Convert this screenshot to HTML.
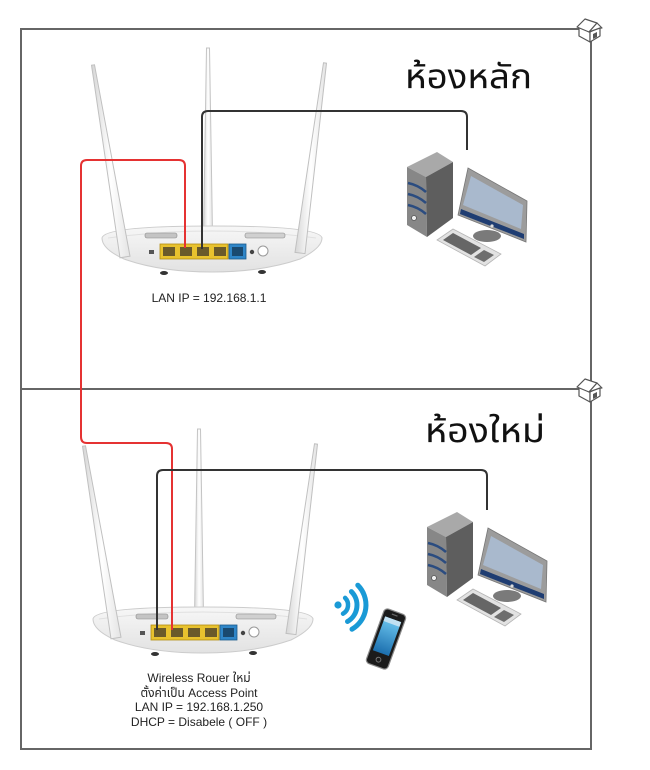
<!DOCTYPE html>
<html>
<head>
<meta charset="utf-8">
<style>
html,body{margin:0;padding:0;background:#fff;}
svg{display:block;}
.sm{font-family:"Liberation Sans","Noto Sans Thai","Tahoma","Garuda","Loma","DejaVu Sans",sans-serif;font-size:12px;fill:#222;}
.ttl{font-family:"Tahoma","Noto Sans Thai","Leelawadee UI","Garuda","Loma","Liberation Sans","DejaVu Sans",sans-serif;font-size:34px;fill:#111;}
</style>
</head>
<body>
<svg width="650" height="770" viewBox="0 0 650 770" xmlns="http://www.w3.org/2000/svg">
<defs>
  <linearGradient id="ant" x1="0" y1="0" x2="1" y2="0">
    <stop offset="0" stop-color="#d6d6d6"/>
    <stop offset="0.5" stop-color="#ffffff"/>
    <stop offset="1" stop-color="#e4e4e4"/>
  </linearGradient>
  <linearGradient id="body" x1="0" y1="0" x2="0" y2="1">
    <stop offset="0" stop-color="#f7f7f7"/>
    <stop offset="1" stop-color="#e2e2e2"/>
  </linearGradient>
  <linearGradient id="scr" x1="0" y1="0" x2="0" y2="1">
    <stop offset="0" stop-color="#6cc6f0"/>
    <stop offset="1" stop-color="#1c6fae"/>
  </linearGradient>

  <g id="router">
    <!-- middle antenna (behind body) -->
    <polygon points="206.5,48 209.5,48 212.5,234 203.5,234" fill="url(#ant)" stroke="#c4c4c4" stroke-width="1"/>
    <!-- body -->
    <path d="M102,238 Q104,226 212,226 Q320,226 322,238 Q322,248 300,259 Q262,272 212,272 Q160,272 124,259 Q102,249 102,238 Z" fill="url(#body)" stroke="#cccccc" stroke-width="1"/>
    <path d="M108,238 Q212,224 316,238" fill="none" stroke="#e0e0e0" stroke-width="1"/>
    <!-- vents -->
    <rect x="145" y="233" width="32" height="5" rx="2" fill="#c4c4c4" stroke="#8a8a8a" stroke-width="0.6"/>
    <rect x="245" y="233" width="40" height="5" rx="2" fill="#d0d0d0" stroke="#8a8a8a" stroke-width="0.6"/>
    <!-- ports -->
    <rect x="149" y="250" width="5" height="4" fill="#555"/>
    <rect x="160" y="244" width="68" height="15" fill="#e8c22e" stroke="#b28c12" stroke-width="0.8"/>
    <rect x="163" y="247" width="12" height="9" fill="#6a5a2a"/>
    <rect x="180" y="247" width="12" height="9" fill="#6a5a2a"/>
    <rect x="197" y="247" width="12" height="9" fill="#6a5a2a"/>
    <rect x="214" y="247" width="12" height="9" fill="#6a5a2a"/>
    <rect x="229" y="244" width="17" height="15" fill="#2f86c8" stroke="#1c5a8a" stroke-width="0.8"/>
    <rect x="232" y="247" width="11" height="9" fill="#1a4a70"/>
    <circle cx="252" cy="252" r="2.2" fill="#444"/>
    <circle cx="263" cy="251" r="5" fill="#fff" stroke="#999" stroke-width="1"/>
    <!-- feet -->
    <ellipse cx="164" cy="273" rx="4" ry="2" fill="#333"/>
    <ellipse cx="262" cy="272" rx="4" ry="2" fill="#333"/>
    <!-- side antennas -->
    <polygon points="91.5,65.2 94.5,64.8 130,256.2 120,257.8" fill="url(#ant)" stroke="#c0c0c0" stroke-width="1"/>
    <polygon points="323.5,62.8 326.5,63.2 305,253.6 295,252.4" fill="url(#ant)" stroke="#c0c0c0" stroke-width="1"/>
  </g>

  <g id="pc">
    <!-- tower -->
    <polygon points="407,167 437,152 453,162 426,177" fill="#a9a9a9"/>
    <polygon points="407,167 426,177 427,237 407,225" fill="#878787"/>
    <polygon points="426,177 453,162 453,218 427,237" fill="#5e5e5e"/>
    <path d="M408,183 Q418,185 426,192" fill="none" stroke="#2b4c80" stroke-width="2.5"/>
    <path d="M408,194 Q418,196 426,203" fill="none" stroke="#2b4c80" stroke-width="2.5"/>
    <path d="M408,205 Q418,207 426,214" fill="none" stroke="#2b4c80" stroke-width="2.5"/>
    <circle cx="414" cy="218" r="2.5" fill="#eee" stroke="#555" stroke-width="0.8"/>
    <!-- stand -->
    <ellipse cx="487" cy="236" rx="14" ry="6" fill="#7a7a7a"/>
    <!-- monitor -->
    <polygon points="468,168 527,201 526,242 458,215" fill="#9c9c9c" stroke="#777" stroke-width="0.8"/>
    <polygon points="471,176 523,205 521,229 463,205" fill="#a9b9cd"/>
    <polygon points="461,209 524,234 524,239 460,214" fill="#1f3d72"/>
    <circle cx="492" cy="226" r="1.6" fill="#ddd"/>
    <!-- keyboard -->
    <polygon points="437,240 453,229 501,254 485,266" fill="#e2e2e2" stroke="#b5b5b5" stroke-width="0.8"/>
    <polygon points="443,240 453,233 481,248 471,255" fill="#666"/>
    <polygon points="474,257 484,250 494,255 484,262" fill="#6e6e6e"/>
  </g>

  <g id="house">
    <polygon points="579,27 579,36 590,42 590,32" fill="#fff" stroke="#555" stroke-width="1.2" stroke-linejoin="round"/>
    <polygon points="590,32 590,42 600,36 600,27" fill="#fff" stroke="#555" stroke-width="1.2" stroke-linejoin="round"/>
    <polygon points="577,27 585,19 597,23 589,32" fill="#fff" stroke="#555" stroke-width="1.2" stroke-linejoin="round"/>
    <polygon points="597,23 602,28 600,28 589,32" fill="#fff" stroke="#555" stroke-width="1.2" stroke-linejoin="round"/>
    <polygon points="593,39 593,34 597,32 597,37" fill="#555"/>
  </g>
</defs>

<!-- frames -->
<rect x="21" y="29" width="570" height="360" fill="none" stroke="#666" stroke-width="2"/>
<rect x="21" y="389" width="570" height="360" fill="none" stroke="#666" stroke-width="2"/>
<use href="#house"/>
<use href="#house" transform="translate(0,360)"/>

<!-- titles -->
<text class="ttl" x="405" y="88" textLength="127" lengthAdjust="spacingAndGlyphs">ห้องหลัก</text>
<text class="ttl" x="425" y="442" textLength="120" lengthAdjust="spacingAndGlyphs">ห้องใหม่</text>

<!-- routers -->
<use href="#router"/>
<use href="#router" transform="translate(-9,381)"/>

<!-- computers -->
<use href="#pc"/>
<use href="#pc" transform="translate(20,360)"/>

<!-- wifi -->
<circle cx="338" cy="605" r="3.6" fill="#1a9ad6"/>
<path d="M345.1,597.9 A10,10 0 0 1 343,613.7" fill="none" stroke="#1a9ad6" stroke-width="4.5" stroke-linecap="round"/>
<path d="M351.4,591.6 A19,19 0 0 1 347.5,621.5" fill="none" stroke="#1a9ad6" stroke-width="5" stroke-linecap="round"/>
<path d="M357.8,585.2 A28,28 0 0 1 352,629.2" fill="none" stroke="#1a9ad6" stroke-width="5" stroke-linecap="round"/>

<!-- phone -->
<g transform="translate(386,639) rotate(20)">
  <rect x="-11.5" y="-29" width="23" height="58" rx="4" fill="#1b1b1b" stroke="#8a8a8a" stroke-width="1.2"/>
  <rect x="-8.5" y="-21" width="17" height="36" fill="url(#scr)"/>
  <rect x="-8.5" y="-21" width="17" height="5" fill="#d8e8f4" opacity="0.8"/>
  <circle cx="0" cy="22" r="2.4" fill="none" stroke="#777" stroke-width="1"/>
  <rect x="-3" y="-26" width="6" height="1.2" fill="#666"/>
</g>

<!-- cables -->
<path d="M185,248 V166 Q185,160 179,160 H87 Q81,160 81,166 V437 Q81,443 87,443 H166 Q172,443 172,449 V630" fill="none" stroke="#e53232" stroke-width="2"/>
<path d="M202,249 V117 Q202,111 208,111 H461 Q467,111 467,117 V150" fill="none" stroke="#333" stroke-width="2"/>
<path d="M157,630 V476 Q157,470 163,470 H481 Q487,470 487,476 V510" fill="none" stroke="#333" stroke-width="2"/>

<!-- labels -->
<text class="sm" x="209" y="302" text-anchor="middle">LAN IP = 192.168.1.1</text>
<text class="sm" x="199" y="682" text-anchor="middle">Wireless Rouer ใหม่</text>
<text class="sm" x="199" y="697" text-anchor="middle">ตั้งค่าเป็น Access Point</text>
<text class="sm" x="199" y="711" text-anchor="middle">LAN IP = 192.168.1.250</text>
<text class="sm" x="199" y="726" text-anchor="middle">DHCP = Disabele ( OFF )</text>
</svg>
</body>
</html>
